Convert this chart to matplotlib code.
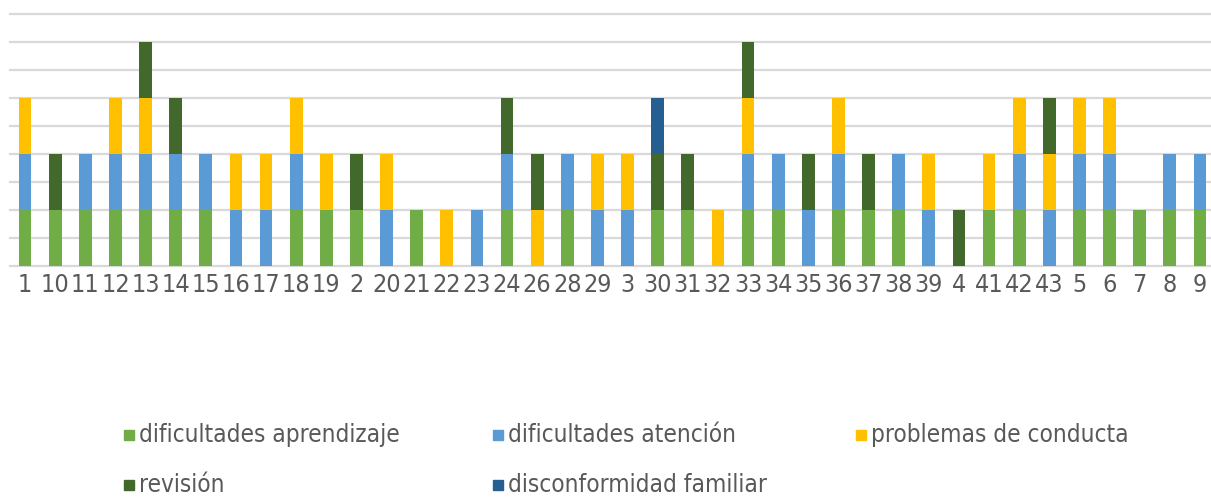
import matplotlib
matplotlib.use("Agg")
import matplotlib.pyplot as plt
from matplotlib.patches import Rectangle
import numpy as np

# Case identifiers along the x axis
categories = ["1", "10", "11", "12", "13", "14", "15", "16", "17", "18", "19", "2",
              "20", "21", "22", "23", "24", "26", "28", "29", "3", "30", "31", "32",
              "33", "34", "35", "36", "37", "38", "39", "4", "41", "42", "43", "5",
              "6", "7", "8", "9"]

# Counts per reason, one value per case
aprendizaje =    [1, 1, 1, 1, 1, 1, 1, 0, 0, 1, 1, 1, 0, 1, 0, 0, 1, 0, 1, 0,
                  0, 1, 1, 0, 1, 1, 0, 1, 1, 1, 0, 0, 1, 1, 0, 1, 1, 1, 1, 1]
atencion =       [1, 0, 1, 1, 1, 1, 1, 1, 1, 1, 0, 0, 1, 0, 0, 1, 1, 0, 1, 1,
                  1, 0, 0, 0, 1, 1, 1, 1, 0, 1, 1, 0, 0, 1, 1, 1, 1, 0, 1, 1]
conducta =       [1, 0, 0, 1, 1, 0, 0, 1, 1, 1, 1, 0, 1, 0, 1, 0, 0, 1, 0, 1,
                  1, 0, 0, 1, 1, 0, 0, 1, 0, 0, 1, 0, 1, 1, 1, 1, 1, 0, 0, 0]
revision =       [0, 1, 0, 0, 1, 1, 0, 0, 0, 0, 0, 1, 0, 0, 0, 0, 1, 1, 0, 0,
                  0, 1, 1, 0, 1, 0, 1, 0, 1, 0, 0, 1, 0, 0, 1, 0, 0, 0, 0, 0]
disconformidad = [0, 0, 0, 0, 0, 0, 0, 0, 0, 0, 0, 0, 0, 0, 0, 0, 0, 0, 0, 0,
                  0, 1, 0, 0, 0, 0, 0, 0, 0, 0, 0, 0, 0, 0, 0, 0, 0, 0, 0, 0]

series_names = ["dificultades aprendizaje", "dificultades atención",
                "problemas de conducta", "revisión", "disconformidad familiar"]
series_values = [aprendizaje, atencion, conducta, revision, disconformidad]
series_colors = ["#70AD47", "#5B9BD5", "#FFC000", "#43682B", "#255E91"]

FONT = ["DejaVu Sans"]
TEXT_COLOR = "#595959"

W, H = 1211, 497
fig = plt.figure(figsize=(W / 100, H / 100), dpi=100)
ax = fig.add_axes([10 / W, (H - 266) / H, 1205 / W, 252 / H])

x = np.arange(len(categories))
bottom = np.zeros(len(categories))
for name, vals, col in zip(series_names, series_values, series_colors):
    vals = np.array(vals, dtype=float)
    ax.bar(x, vals, width=0.42, bottom=bottom, color=col, label=name, zorder=3)
    bottom += vals

ax.set_xlim(-0.5, len(categories) - 0.5)
ax.set_ylim(0, 4.5)
ax.set_yticks(np.arange(0, 4.51, 0.5))
ax.yaxis.grid(True, color="#D9D9D9", linewidth=1.6, zorder=0)
for gl in ax.get_ygridlines():
    gl.set_clip_on(False)
ax.tick_params(axis="y", left=False, labelleft=False)
ax.tick_params(axis="x", length=0, pad=5)
ax.set_xticks(x)
ax.set_xticklabels(categories, fontsize=18, color=TEXT_COLOR, family=FONT,
                   fontstretch="condensed")
for s in ax.spines.values():
    s.set_visible(False)

# Legend entries laid out in an Excel-like grid below the chart
legend_pos = [(124, 435), (493, 435), (856, 435), (124, 485), (493, 485)]
for (px, py), name, col in zip(legend_pos, series_names, series_colors):
    sq = 10
    fig.patches.append(Rectangle((px / W, (H - py - sq / 2) / H), sq / W, sq / H,
                                 transform=fig.transFigure, color=col))
    fig.text((px + sq + 5) / W, (H - py) / H, name, fontsize=17.5, color=TEXT_COLOR,
             family=FONT, fontstretch="condensed", va="center", ha="left")

fig.savefig("out.png", dpi=100)
